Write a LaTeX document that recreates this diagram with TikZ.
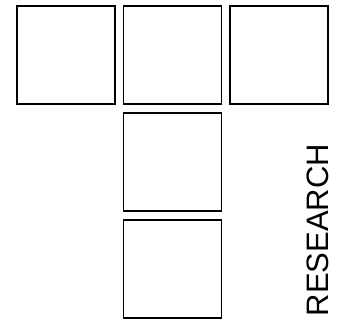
\documentclass[tikz,border=0pt]{standalone}
\usepackage{fontspec}
\setmainfont{Liberation Sans}
\begin{document}
\begin{tikzpicture}[x=1pt,y=-1pt,
  sq/.style={draw=black,line width=1.8pt,minimum size=98pt,inner sep=0pt,anchor=north west},
  lbl/.style={font=\fontsize{31}{33}\selectfont,inner sep=0pt,rotate=90}]
\useasboundingbox (0,0) rectangle (341,323);
\node[sq] (a) at (16,5.5) {};
\node[sq] (b) at (122.5,5.5) {};
\node[sq] (c) at (228.8,5.5) {};
\node[sq] (d) at (122.5,112.5) {};
\node[sq] (e) at (122.5,219) {};
\node[lbl,anchor=base] (t) at (328.3,230) {RESEARCH};
\end{tikzpicture}
\end{document}
